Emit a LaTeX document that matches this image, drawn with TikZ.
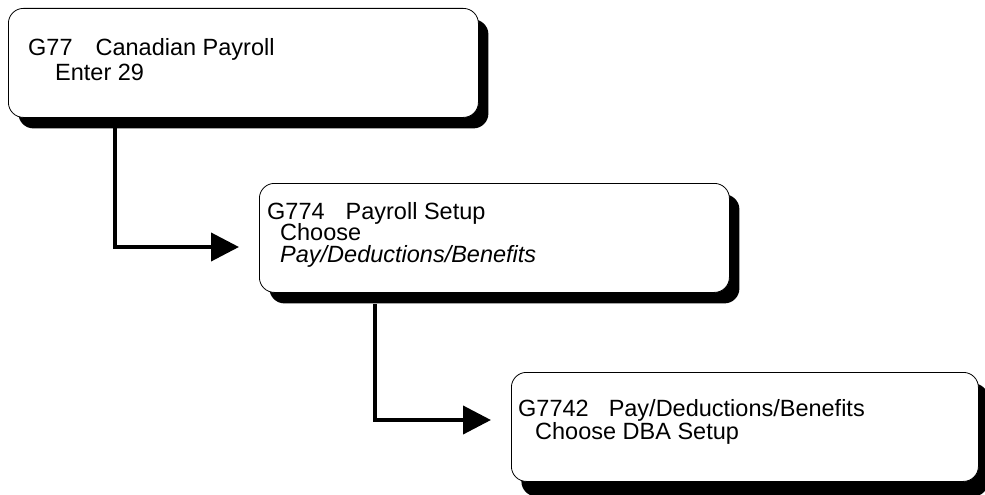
\documentclass[tikz,border=0pt]{standalone}
\usepackage{fontspec}
\setmainfont{Liberation Sans}
\usetikzlibrary{arrows.meta,shadows}

\begin{document}
\begin{tikzpicture}[x=1pt,y=-1pt,
  menubox/.style={draw=black, line width=0.8pt, fill=white, rounded corners=15pt,
    minimum width=470pt, minimum height=109pt, anchor=north west, inner sep=0pt,
    drop shadow={shadow xshift=10pt, shadow yshift=-11pt, fill=black, opacity=1}},
  label/.style={anchor=base west, inner sep=0pt, font=\fontsize{23.5}{26}\selectfont},
  conn/.style={line width=4pt, -{Triangle[length=28pt,width=28pt]}, shorten >=20pt}]
\useasboundingbox (0,0) rectangle (985,495);

% connector bend points
\coordinate (k1) at (115,247);
\coordinate (k2) at (375,420);

% menu boxes
\node[menubox] (b1) at (8,8) {};
\node[menubox] (b2) at (259,183) {};
\node[menubox, minimum width=467pt,
  drop shadow={shadow xshift=10pt, shadow yshift=-15pt, fill=black, opacity=1}]
  (b3) at (511,372) {};

% connectors from one menu to the next
\draw[conn] (b1.south -| k1) -- (k1) -- (k1 -| b2.west);
\draw[conn] (b2.south -| k2) ++(0,11) -- (k2) -- (k2 -| b3.west);

% box texts
\node[label] (t1a) at (28,56) {G77\hspace{23pt}Canadian Payroll};
\node[label] (t1b) at (55,81) {Enter 29};
\node[label] (t2a) at (267,219) {G774\hspace{21pt}Payroll Setup};
\node[label] (t2b) at (280,240.5) {Choose};
\node[label] (t2c) at (280,262) {\itshape Pay/Deductions/Benefits};
\node[label] (t3a) at (518,416) {G7742\hspace{20pt}Pay/Deductions/Benefits};
\node[label] (t3b) at (535,439) {Choose DBA Setup};
\end{tikzpicture}
\end{document}
